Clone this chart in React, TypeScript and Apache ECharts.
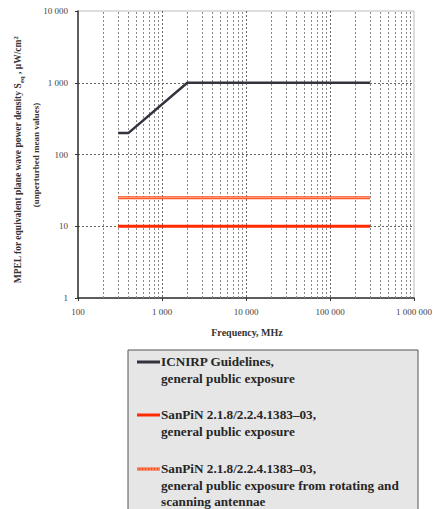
import React, { useEffect, useRef } from "react";
import * as echarts from "echarts";

const xMin = 100;
const xMax = 1000000;
const yMin = 1;
const yMax = 10000;

const icnirpFreq = [300, 400, 2000, 300000];
const icnirpValues = [200, 200, 1000, 1000];

const sanpinFreq = [300, 300000];
const sanpinValues = [10, 10];
const rotatingValues = [25, 25];

const decades = [100, 1000, 10000, 100000];
const minorMultipliers = [2, 3, 4, 5, 6, 7, 8, 9];

const legendItems = [
  { color: "#33333d", text: "ICNIRP Guidelines,\ngeneral public exposure", stripe: false },
  { color: "#ff2a00", text: "SanPiN 2.1.8/2.2.4.1383–03,\ngeneral public exposure", stripe: false },
  {
    color: "#ff4a1a",
    text: "SanPiN 2.1.8/2.2.4.1383–03,\ngeneral public exposure from rotating and\nscanning antennae",
    stripe: true,
  },
];

const serif = "'Liberation Serif', 'Times New Roman', serif";

const fmt = (v: number) => String(Math.round(v)).replace(/\B(?=(\d{3})+(?!\d))/g, " ");

export default function App() {
  const ref = useRef<HTMLDivElement>(null);
  useEffect(() => {
    document.body.style.margin = "0";
    if (!ref.current) return;
    const chart = echarts.init(ref.current, undefined, { renderer: "svg" });

    const minorLines: { xAxis: number }[] = [];
    decades.forEach((d) => minorMultipliers.forEach((m) => minorLines.push({ xAxis: d * m })));

    const legendTop = 350;
    const legendLeft = 128;
    const itemY = [362, 415, 469];
    const legendGraphics: any[] = [
      {
        type: "rect",
        shape: { x: legendLeft, y: legendTop, width: 290, height: 175 },
        style: { fill: "#e6e6e6", stroke: "#555", lineWidth: 1 },
        z: 10,
      },
    ];
    legendItems.forEach((it, i) => {
      legendGraphics.push({
        type: "line",
        shape: { x1: 137, y1: itemY[i], x2: 160, y2: itemY[i] },
        style: { stroke: it.color, lineWidth: 3 },
        z: 11,
      });
      if (it.stripe) {
        legendGraphics.push({
          type: "line",
          shape: { x1: 137, y1: itemY[i], x2: 160, y2: itemY[i] },
          style: { stroke: "#ffb090", lineWidth: 1, lineDash: [2, 1] },
          z: 12,
        });
      }
      legendGraphics.push({
        type: "text",
        x: 161,
        y: itemY[i] - 8.5,
        style: {
          text: it.text,
          fontFamily: serif,
          fontSize: 13.2,
          fontWeight: "bold",
          fill: "#262626",
          lineHeight: 16.5,
          align: "left",
          verticalAlign: "top",
        },
        z: 12,
      });
    });

    const option: any = {
      animation: false,
      grid: {
        left: 78,
        right: 18,
        top: 11,
        bottom: 211,
        show: true,
        borderColor: "#bbbbbb",
        borderWidth: 1,
        backgroundColor: "transparent",
      },
      xAxis: {
        type: "log",
        logBase: 10,
        min: xMin,
        max: xMax,
        axisLine: { show: true, onZero: false, lineStyle: { color: "#333", width: 1.5 } },
        axisTick: { show: true, length: 3, lineStyle: { color: "#333" } },
        axisLabel: {
          formatter: fmt,
          fontFamily: serif,
          fontSize: 9,
          color: "#444",
          margin: 9,
        },
        splitLine: {
          show: true,
          showMinLine: false,
          showMaxLine: false,
          lineStyle: { color: "#666", type: [2, 2], width: 1 },
        },
      },
      yAxis: {
        type: "log",
        logBase: 10,
        min: yMin,
        max: yMax,
        axisLine: { show: true, onZero: false, lineStyle: { color: "#333", width: 1.5 } },
        axisTick: { show: true, length: 3, lineStyle: { color: "#333" } },
        axisLabel: {
          formatter: fmt,
          fontFamily: serif,
          fontSize: 9,
          color: "#444",
          margin: 10,
        },
        splitLine: {
          show: true,
          showMinLine: false,
          showMaxLine: false,
          lineStyle: { color: "#666", type: [2, 2], width: 1 },
        },
      },
      series: [
        {
          type: "line",
          data: [],
          silent: true,
          markLine: {
            silent: true,
            symbol: "none",
            label: { show: false },
            animation: false,
            lineStyle: { color: "#888", type: [2, 2], width: 1 },
            emphasis: { disabled: true },
            data: minorLines,
          },
        },
        {
          name: "ICNIRP",
          type: "line",
          data: icnirpFreq.map((f, i) => [f, icnirpValues[i]]),
          symbol: "none",
          lineStyle: { color: "#33333d", width: 2.5 },
          z: 5,
        },
        {
          name: "SanPiN",
          type: "line",
          data: sanpinFreq.map((f, i) => [f, sanpinValues[i]]),
          symbol: "none",
          lineStyle: { color: "#ff2a00", width: 3 },
          z: 5,
        },
        {
          name: "SanPiN rotating",
          type: "line",
          data: sanpinFreq.map((f, i) => [f, rotatingValues[i]]),
          symbol: "none",
          lineStyle: { color: "#ff4a1a", width: 3 },
          z: 5,
        },
        {
          name: "SanPiN rotating stripe",
          type: "line",
          data: sanpinFreq.map((f, i) => [f, rotatingValues[i]]),
          symbol: "none",
          lineStyle: { color: "#ffa888", width: 1 },
          z: 6,
        },
      ],
      graphic: [
        {
          type: "text",
          x: 18,
          y: 160,
          rotation: Math.PI / 2,
          style: {
            text: "MPEL for equivalent plane wave power density S{sub|eq} , µW/cm{sup|2}",
            fontFamily: serif,
            fontSize: 9.5,
            fontWeight: "bold",
            fill: "#333",
            align: "center",
            verticalAlign: "middle",
            lineHeight: 13,
            rich: {
              sub: { fontSize: 6.5, fontWeight: "bold", fontFamily: serif, fill: "#333", verticalAlign: "bottom", lineHeight: 13 },
              sup: { fontSize: 6.5, fontWeight: "bold", fontFamily: serif, fill: "#333", verticalAlign: "top", lineHeight: 13 },
            },
          },
        },
        {
          type: "text",
          x: 36,
          y: 155,
          rotation: Math.PI / 2,
          style: {
            text: "(unperturbed mean values)",
            fontFamily: serif,
            fontSize: 9,
            fontWeight: "bold",
            fill: "#333",
            align: "center",
            verticalAlign: "middle",
          },
        },
        {
          type: "text",
          x: 247,
          y: 332,
          style: {
            text: "Frequency, MHz",
            fontFamily: serif,
            fontSize: 10,
            fontWeight: "bold",
            fill: "#333",
            align: "center",
            verticalAlign: "middle",
          },
        },
        ...legendGraphics,
      ],
    };
    chart.setOption(option);
    return () => chart.dispose();
  }, []);
  return <div ref={ref} style={{ width: 435, height: 509 }} />;
}
